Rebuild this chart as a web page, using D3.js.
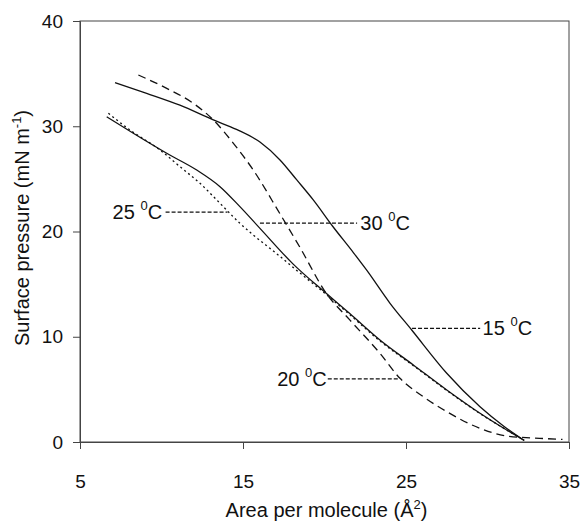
<!DOCTYPE html>
<html>
<head>
<meta charset="utf-8">
<script src="https://cdn.jsdelivr.net/npm/d3@7"></script>
<style>
  body { margin: 0; background: #fff; }
  svg text { font-family: "Liberation Sans", Arial, sans-serif; fill: #111; }
</style>
</head>
<body>
<div id="chart"></div>
<script>
// isotherms: [area per molecule, surface pressure]
const t15 = [[7.15,34.15],[9.09,33.13],[11.13,32.0],[13.18,30.6],[14.6,29.7],[16.04,28.5],[17.27,26.8],[18.3,24.9],[19.31,23.0],[20.5,20.5],[21.77,18.0],[22.6,16.3],[24.02,13.18],[25.35,10.64],[27.5,6.53],[29.54,3.35],[31.0,1.5],[32.25,0.15]];
const t20 = [[6.64,30.9],[8.27,29.33],[10.32,27.43],[12.16,25.84],[13.59,24.26],[14.81,22.36],[16.04,20.3],[18.08,16.9],[20.12,14.1],[21.55,12.2],[23.4,9.69],[25.45,7.32],[27.5,4.94],[29.54,2.73],[31.0,1.3],[32.25,0.15]];
const t25 = [[6.74,31.23],[8.07,29.64],[9.91,27.74],[11.13,26.16],[12.36,24.58],[13.59,22.68],[14.81,20.78],[15.63,19.67],[16.9,18.1],[18.3,16.3],[20.12,14.0],[21.55,12.1],[23.4,9.6],[25.45,7.25],[27.5,4.9],[29.54,2.7],[31.0,1.3],[32.25,0.15]];
const t30 = [[8.58,34.87],[10.32,33.6],[11.95,32.18],[13.18,30.6],[14.4,28.4],[15.63,25.84],[17.26,21.7],[18.49,18.5],[20.12,14.1],[21.55,11.6],[23.4,8.43],[24.63,6.05],[26.06,4.3],[27.5,2.88],[29.54,1.3],[31.18,0.57],[33.2,0.35],[34.6,0.25]];

const xTicks = [5, 15, 25, 35];
const yTicks = [0, 10, 20, 30, 40];

// curve labels with their dashed leader lines
const labels = [
  {name: "25", textX: 7.0, y: 21.85, lineFrom: 10.25, lineTo: 14.05},
  {name: "30", textX: 22.2, y: 20.8, lineFrom: 16.04, lineTo: 22.0},
  {name: "15", textX: 29.7, y: 10.8, lineFrom: 25.37, lineTo: 29.55},
  {name: "20", textX: 17.1, y: 6.0, lineFrom: 20.2, lineTo: 24.6}
];

const W = 582, H = 522;
const margin = {top: 21, right: 13, bottom: 80, left: 80};
const width = W - margin.left - margin.right,
      height = H - margin.top - margin.bottom;

const svg = d3.select("#chart").append("svg")
    .attr("width", W).attr("height", H);
const g = svg.append("g")
    .attr("transform", `translate(${margin.left},${margin.top})`);

const x = d3.scaleLinear().domain([5, 35]).range([0, width]);
const y = d3.scaleLinear().domain([0, 40]).range([height, 0]);

// frame round the plot
g.append("rect")
    .attr("width", width).attr("height", height)
    .attr("fill", "none").attr("stroke", "#444").attr("stroke-width", 1);

const xAxis = g.append("g")
    .attr("transform", `translate(0,${height})`)
    .call(d3.axisBottom(x).tickValues(xTicks).tickSize(7).tickPadding(26).tickFormat(d3.format("d")));
const yAxis = g.append("g")
    .call(d3.axisLeft(y).tickValues(yTicks).tickSize(7).tickPadding(10).tickFormat(d3.format("d")));
[xAxis, yAxis].forEach(a => {
  a.select(".domain").attr("stroke", "#444");
  a.selectAll(".tick line").attr("stroke", "#444");
  a.selectAll("text").style("font-size", "19px").attr("fill", "#111");
});

const line = d3.line()
    .x(d => x(d[0])).y(d => y(d[1]))
    .curve(d3.curveMonotoneX);

const series = [
  {data: t15, dash: null},
  {data: t20, dash: null},
  {data: t25, dash: "2,3"},
  {data: t30, dash: "8,5"}
];
g.selectAll("path.iso")
  .data(series)
  .enter().append("path")
    .attr("class", "iso")
    .attr("d", d => line(d.data))
    .attr("fill", "none")
    .attr("stroke", "#111")
    .attr("stroke-width", 1.3)
    .attr("stroke-dasharray", d => d.dash);

labels.forEach(l => {
  g.append("line")
    .attr("x1", x(l.lineFrom)).attr("x2", x(l.lineTo))
    .attr("y1", y(l.y)).attr("y2", y(l.y))
    .attr("stroke", "#111").attr("stroke-width", 1.2)
    .attr("stroke-dasharray", "4,2");
  const t = g.append("text")
    .attr("x", x(l.textX)).attr("y", y(l.y) + 7)
    .style("font-size", "20px");
  t.append("tspan").text(l.name + " ");
  t.append("tspan").attr("dy", -9).style("font-size", "13px").text("0");
  t.append("tspan").attr("dy", 9).text("C");
});

// axis titles
const xt = svg.append("text")
    .attr("x", margin.left + width / 2 + 2).attr("y", 517)
    .attr("text-anchor", "middle")
    .style("font-size", "20px");
xt.append("tspan").text("Area per molecule (Å");
xt.append("tspan").attr("dy", -8).style("font-size", "13px").text("2");
xt.append("tspan").attr("dy", 8).text(")");

const yt = svg.append("text")
    .attr("transform", `translate(29,${margin.top + 207}) rotate(-90)`)
    .attr("text-anchor", "middle")
    .style("font-size", "20px");
yt.append("tspan").text("Surface pressure (mN m");
yt.append("tspan").attr("dy", -8).style("font-size", "13px").text("-1");
yt.append("tspan").attr("dy", 8).text(")");
</script>
</body>
</html>
